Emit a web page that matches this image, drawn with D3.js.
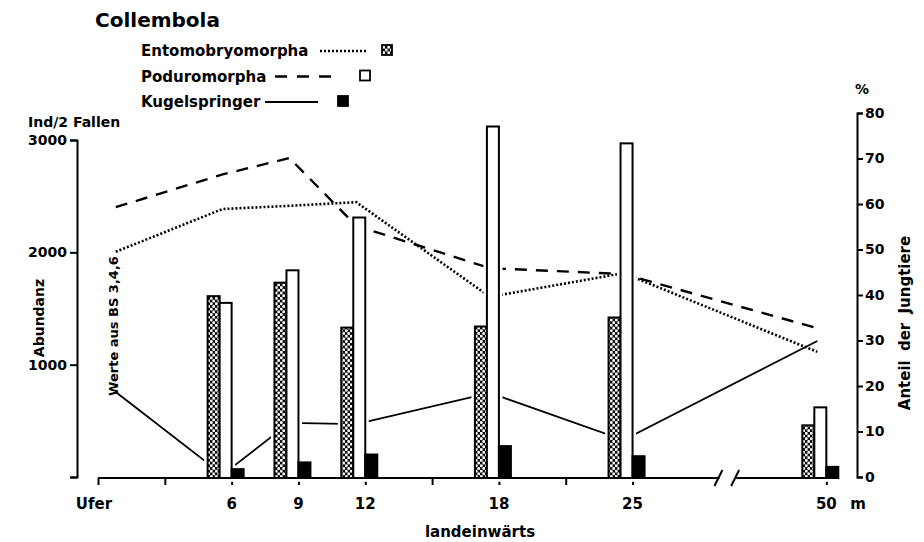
<!DOCTYPE html>
<html>
<head>
<meta charset="utf-8">
<script src="https://cdn.jsdelivr.net/npm/d3@7"></script>
<style>
  body { margin: 0; background: #fff; }
  svg text { font-family: "DejaVu Sans", sans-serif; font-weight: bold; fill: #000; }
</style>
</head>
<body>
<div id="chart"></div>
<script>
const width = 924, height = 542;

// stations along the transect (x axis)
const stations = ["Ufer", "6", "9", "12", "18", "25", "50"];
const stationSlot = [0, 2, 3, 4, 6, 8, 10.9];
const minorSlots = [1, 5, 7];
const lineSlot = [0.4, 2, 3, 4, 6, 8, 10.9];

// abundance, Ind/2 Fallen (bars, stations 6..50)
const barStations = ["6", "9", "12", "18", "25", "50"];
const entoBars = [1610, 1730, 1330, 1340, 1420, 460];
const poduBars = [1550, 1840, 2310, 3120, 2970, 620];
const kugelBars = [70, 130, 200, 275, 185, 90];

// Anteil der Jungtiere, % (lines, Ufer..50)
const entoPct = [49.5, 58.9, 59.6, 60.4, 39.6, 44.8, 27.5];
const poduPct = [59.3, 66.5, 70.1, 55.2, 45.9, 44.6, 32.7];
const kugelPct = [18.7, 0.5, 11.9, 11.6, 18.5, 8.1, 29.9];

const leftTicks = [0, 1000, 2000, 3000];
const rightTicks = [0, 10, 20, 30, 40, 50, 60, 70, 80];

const svg = d3.select("#chart")
  .append("svg")
  .attr("width", width)
  .attr("height", height);

// checkered fill: white rings on black
const defs = svg.append("defs");
const pat = defs.append("pattern")
  .attr("id", "check")
  .attr("patternUnits", "userSpaceOnUse")
  .attr("width", 5)
  .attr("height", 5.4);
pat.append("rect").attr("width", 5).attr("height", 5.4).attr("fill", "#000");
pat.append("circle").attr("cx", 1.25).attr("cy", 1.35).attr("r", 1.5).attr("fill", "#fff");
pat.append("circle").attr("cx", 3.75).attr("cy", 4.05).attr("r", 1.5).attr("fill", "#fff");

const xScale = d3.scaleLinear().domain([0, 11]).range([98, 833]);
const yLeft = d3.scaleLinear().domain([0, 3000]).range([477, 140]);
const yRight = d3.scaleLinear().domain([0, 80]).range([477, 113]);

// title + legend
svg.append("text")
  .attr("x", 95).attr("y", 27)
  .style("font-size", "20px")
  .text("Collembola");

const legendItems = [
  { name: "Entomobryomorpha", dash: "2,2", fill: "url(#check)", x1: 320, x2: 368, sq: 382 },
  { name: "Poduromorpha", dash: "12,10", fill: "#fff", x1: 275, x2: 340, sq: 360 },
  { name: "Kugelspringer", dash: null, fill: "#000", x1: 265, x2: 318, sq: 338 }
];

const legend = svg.append("g");
legendItems.forEach((d, i) => {
  const yy = 56 + i * 25.5;
  legend.append("text")
    .attr("x", 141).attr("y", yy)
    .style("font-size", "15px")
    .text(d.name);
  legend.append("line")
    .attr("x1", d.x1).attr("x2", d.x2)
    .attr("y1", yy - 5).attr("y2", yy - 5)
    .attr("stroke", "#000")
    .attr("stroke-width", d.dash ? 2.4 : 1.8)
    .attr("stroke-dasharray", d.dash);
  legend.append("rect")
    .attr("x", d.sq).attr("y", yy - 11)
    .attr("width", 10).attr("height", 10)
    .attr("fill", d.fill)
    .attr("stroke", "#000")
    .attr("stroke-width", 1.8);
});

// left axis
const leftAxis = svg.append("g")
  .attr("transform", "translate(77,0)")
  .call(d3.axisLeft(yLeft)
    .tickValues(leftTicks)
    .tickSize(7)
    .tickPadding(3)
    .tickFormat(d => d === 0 ? "" : d));
leftAxis.select(".domain").attr("stroke-width", 2);
leftAxis.selectAll(".tick line").attr("stroke-width", 2);
leftAxis.selectAll("text")
  .style("font-size", "14px")
  .style("font-family", "DejaVu Sans")
  .style("font-weight", "bold");

svg.append("text")
  .attr("x", 28).attr("y", 127)
  .style("font-size", "14px")
  .text("Ind/2 Fallen");

svg.append("text")
  .attr("transform", "translate(44,318) rotate(-90)")
  .attr("text-anchor", "middle")
  .style("font-size", "14px")
  .text("Abundanz");

// right axis
const rightAxis = svg.append("g")
  .attr("transform", "translate(857,0)")
  .call(d3.axisRight(yRight)
    .tickValues(rightTicks)
    .tickSize(6)
    .tickPadding(2));
rightAxis.select(".domain").attr("stroke-width", 2);
rightAxis.selectAll(".tick line").attr("stroke-width", 2);
rightAxis.selectAll("text")
  .style("font-size", "14px")
  .style("font-family", "DejaVu Sans")
  .style("font-weight", "bold");

svg.append("text")
  .attr("x", 855).attr("y", 94)
  .style("font-size", "14px")
  .text("%");

svg.append("text")
  .attr("transform", "translate(910,323) rotate(-90)")
  .attr("text-anchor", "middle")
  .style("font-size", "15px")
  .style("word-spacing", "4px")
  .text("Anteil der Jungtiere");

// x axis with break
const baseY = 478;
const xAxis = svg.append("g")
  .attr("transform", `translate(0,${baseY})`)
  .call(d3.axisBottom(xScale)
    .tickValues(stationSlot.concat(minorSlots))
    .tickSize(7)
    .tickFormat(""));
xAxis.select(".domain").remove();
xAxis.selectAll(".tick line").attr("stroke-width", 2);

const brk1 = xScale(9.3), brk2 = xScale(9.55);

svg.append("g")
  .selectAll("text")
  .data(stations)
  .join("text")
  .attr("x", (d, i) => xScale(stationSlot[i]) - (i === 0 ? 4 : 0))
  .attr("y", 509)
  .attr("text-anchor", "middle")
  .style("font-size", "15px")
  .text(d => d);

svg.append("text")
  .attr("x", 858).attr("y", 509)
  .attr("text-anchor", "middle")
  .style("font-size", "15px")
  .text("m");

svg.append("text")
  .attr("x", 480).attr("y", 537)
  .attr("text-anchor", "middle")
  .style("font-size", "15px")
  .text("landeinwärts");

svg.append("text")
  .attr("transform", "translate(118,326) rotate(-90)")
  .attr("text-anchor", "middle")
  .style("font-size", "13px")
  .text("Werte aus BS 3,4,6");

// lines (percent of juveniles)
const lineGen = d3.line()
  .x((d, i) => xScale(lineSlot[i]) - 9)
  .y(d => yRight(d));

const lineSeries = [
  { values: entoPct, dash: "2,2", w: 2.6 },
  { values: poduPct, dash: "12,9", w: 2.4 },
  { values: kugelPct, dash: null, w: 1.8 }
];
svg.append("g")
  .selectAll("path")
  .data(lineSeries)
  .join("path")
  .attr("d", d => lineGen(d.values))
  .attr("fill", "none")
  .attr("stroke", "#000")
  .attr("stroke-width", d => d.w)
  .attr("stroke-dasharray", d => d.dash);

// bars
const barW = 12;
const barData = [];
barStations.forEach((s, i) => {
  const x0 = xScale(stationSlot[stations.indexOf(s)]);
  barData.push({ x: x0 - 2 * barW, v: entoBars[i], fill: "url(#check)" });
  barData.push({ x: x0 - barW, v: poduBars[i], fill: "#fff" });
  barData.push({ x: x0, v: kugelBars[i], fill: "#000" });
});

const bars = svg.append("g");
// white halo so lines break around the bars
bars.selectAll(".halo")
  .data(barData)
  .join("rect")
  .attr("class", "halo")
  .attr("x", d => d.x)
  .attr("y", d => yLeft(d.v))
  .attr("width", barW)
  .attr("height", d => baseY - yLeft(d.v))
  .attr("fill", "#fff")
  .attr("stroke", "#fff")
  .attr("stroke-width", 7);
bars.selectAll(".bar")
  .data(barData)
  .join("rect")
  .attr("class", "bar")
  .attr("x", d => d.x)
  .attr("y", d => yLeft(d.v))
  .attr("width", barW)
  .attr("height", d => baseY - yLeft(d.v))
  .attr("fill", d => d.fill)
  .attr("stroke", "#000")
  .attr("stroke-width", 2);

// baseline drawn over the halos, with the axis break
svg.append("line")
  .attr("x1", xScale(0)).attr("x2", brk1)
  .attr("y1", baseY).attr("y2", baseY)
  .attr("stroke", "#000").attr("stroke-width", 2);
svg.append("line")
  .attr("x1", brk2).attr("x2", xScale(10.9) + 1)
  .attr("y1", baseY).attr("y2", baseY)
  .attr("stroke", "#000").attr("stroke-width", 2);
[brk1, brk2].forEach(bx => {
  svg.append("line")
    .attr("x1", bx - 5).attr("x2", bx + 3)
    .attr("y1", baseY + 8).attr("y2", baseY - 8)
    .attr("stroke", "#000").attr("stroke-width", 2);
});
</script>
</body>
</html>
